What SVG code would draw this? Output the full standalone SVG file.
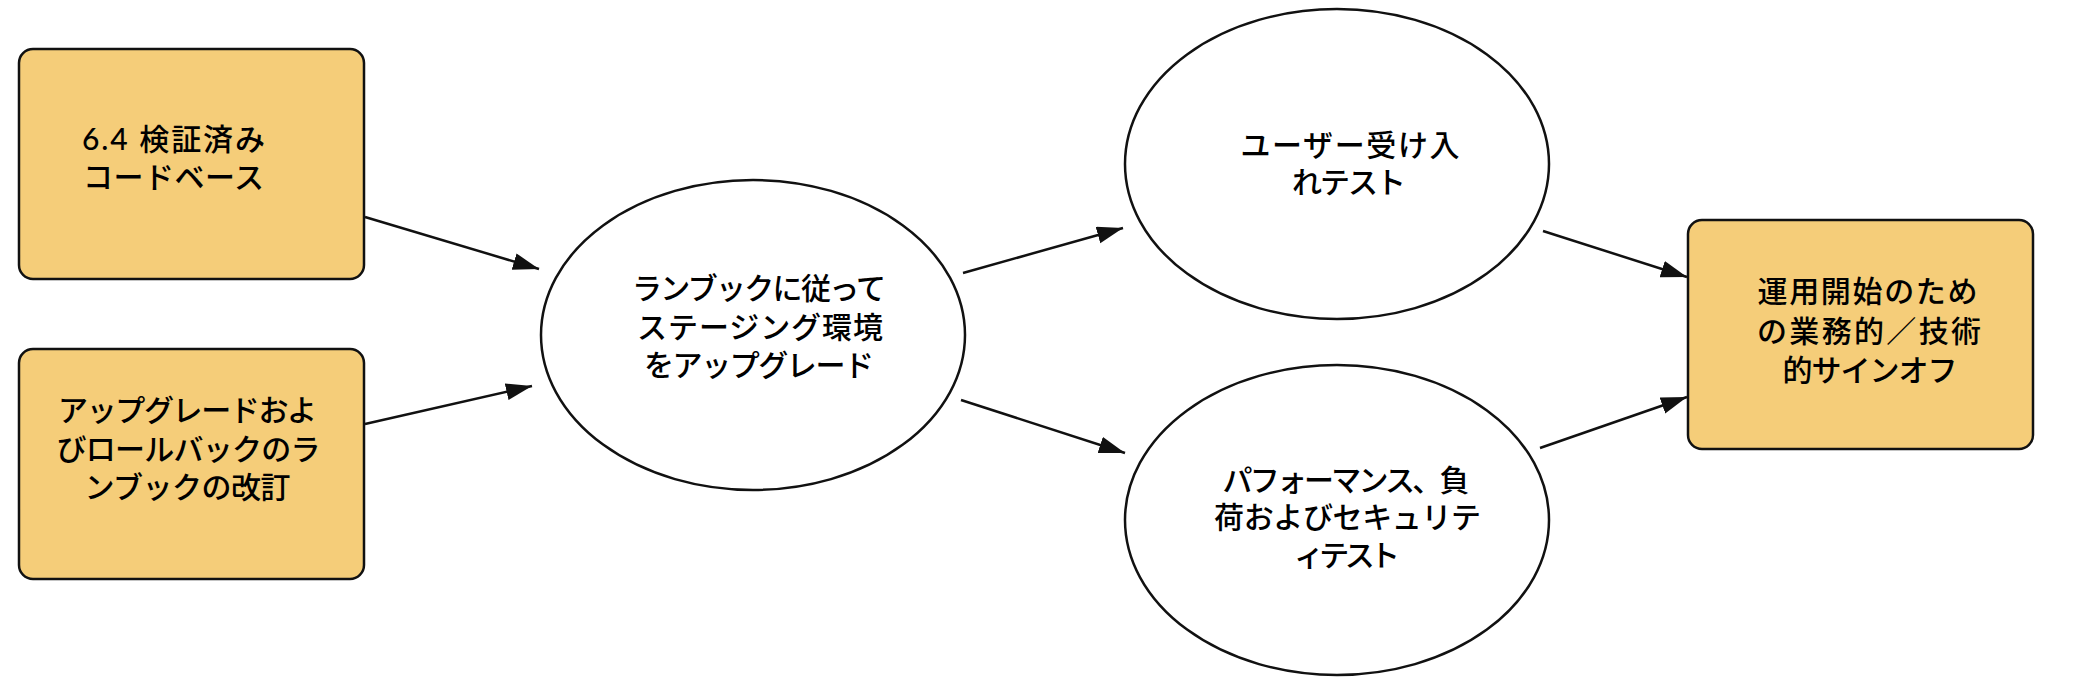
<svg xmlns="http://www.w3.org/2000/svg" width="2094" height="690" viewBox="0 0 2094 690">
<style>
.box{fill:#F5CD79;stroke:#111;stroke-width:2.5}
.ell{fill:#fff;stroke:#111;stroke-width:2.5}
.edge{stroke:#111;stroke-width:2.5;fill:none;marker-end:url(#ah)}
text{font-family:Lato,"Noto Sans CJK JP",sans-serif;font-size:30px;font-weight:500;fill:#000;text-anchor:middle}
</style>
<defs>
<marker id="ah" markerUnits="userSpaceOnUse" markerWidth="27" markerHeight="18" refX="26" refY="8.5" orient="auto">
<path d="M0,0 L26,8.5 L0,17 Z" fill="#111"/>
</marker>
</defs>
<rect width="2094" height="690" fill="#fff"/>
<g id="connectors">
<line class="edge" x1="365" y1="217" x2="539" y2="269"/>
<line class="edge" x1="365" y1="424" x2="532" y2="386"/>
<line class="edge" x1="963" y1="273" x2="1123" y2="228"/>
<line class="edge" x1="961" y1="400" x2="1125" y2="453"/>
<line class="edge" x1="1543" y1="231" x2="1687" y2="277"/>
<line class="edge" x1="1540" y1="448" x2="1687" y2="397"/>
</g>
<g id="n1">
<rect class="box" x="19" y="49" width="345" height="230" rx="14"/>
<text x="173.5" y="150" textLength="183" lengthAdjust="spacing">6.4 検証済み</text>
<text x="173.5" y="188" textLength="181" lengthAdjust="spacing">コードベース</text>
</g>
<g id="n2">
<rect class="box" x="19" y="349" width="345" height="230" rx="14"/>
<text x="187.5" y="421" textLength="259" lengthAdjust="spacing">アップグレードおよ</text>
<text x="188.5" y="460" textLength="264" lengthAdjust="spacing">びロールバックのラ</text>
<text x="187.5" y="498" textLength="206" lengthAdjust="spacing">ンブックの改訂</text>
</g>
<g id="n3">
<ellipse class="ell" cx="753" cy="335" rx="212" ry="155"/>
<text x="759" y="299" textLength="254" lengthAdjust="spacing">ランブックに従って</text>
<text x="760" y="338" textLength="246" lengthAdjust="spacing">ステージング環境</text>
<text x="759" y="376" textLength="230" lengthAdjust="spacing">をアップグレード</text>
</g>
<g id="n4">
<ellipse class="ell" cx="1337" cy="164" rx="212" ry="155"/>
<text x="1350" y="156" textLength="219" lengthAdjust="spacing">ユーザー受け入</text>
<text x="1349" y="193" textLength="114" lengthAdjust="spacing">れテスト</text>
</g>
<g id="n5">
<ellipse class="ell" cx="1337" cy="520" rx="212" ry="155"/>
<text x="1346" y="491" textLength="247" lengthAdjust="spacing">パフォーマンス、負</text>
<text x="1347.5" y="528" textLength="267" lengthAdjust="spacing">荷およびセキュリテ</text>
<text x="1347" y="566" textLength="106" lengthAdjust="spacing">ィテスト</text>
</g>
<g id="n6">
<rect class="box" x="1688" y="220" width="345" height="229" rx="14"/>
<text x="1867.5" y="302" textLength="220" lengthAdjust="spacing">運用開始のため</text>
<text x="1869" y="342" textLength="224" lengthAdjust="spacing">の業務的／技術</text>
<text x="1870" y="381" textLength="175" lengthAdjust="spacing">的サインオフ</text>
</g>
</svg>
